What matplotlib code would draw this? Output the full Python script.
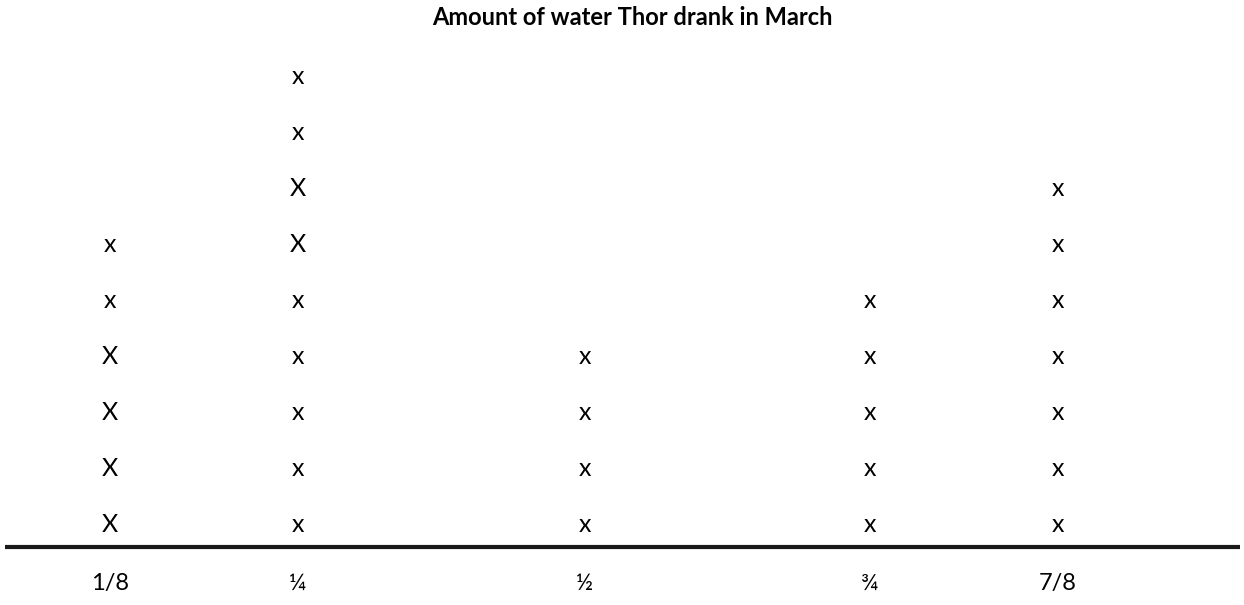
import matplotlib.pyplot as plt

# Line plot data: how many times each amount was drunk, and the glyph used for each mark (bottom to top)
amounts = ['1/8', '¼', '½', '¾', '7/8']
counts = [6, 9, 4, 5, 7]
marks = [
    ['X', 'X', 'X', 'X', 'x', 'x'],
    ['x', 'x', 'x', 'x', 'x', 'X', 'X', 'x', 'x'],
    ['x', 'x', 'x', 'x'],
    ['x', 'x', 'x', 'x', 'x'],
    ['x', 'x', 'x', 'x', 'x', 'x', 'x'],
]
title = 'Amount of water Thor drank in March'

# layout: horizontal position of each column (pixels across the figure)
col_pos = [110, 298, 585, 870, 1058]

plt.rcParams['font.family'] = ['Lato', 'DejaVu Sans']

fig = plt.figure(figsize=(12.44, 6.05), dpi=100)
ax = fig.add_axes([0, 0, 1, 1])
ax.set_xlim(0, 1244)
ax.set_ylim(-0.4286, 10.375)
ax.axis('off')

for xp, n, glyphs in zip(col_pos, counts, marks):
    for row in range(1, n + 1):
        ax.text(xp, row, glyphs[row - 1], ha='center', va='center', fontsize=18, color='black')

# baseline
ax.plot([5, 1240], [0.607, 0.607], color='#1a1a1a', lw=3, solid_capstyle='butt')

for xp, lab in zip(col_pos, amounts):
    ax.text(xp, -0.04, lab, ha='center', va='center', fontsize=17, color='black')

ax.text(632, 10.07, title, ha='center', va='center', fontsize=17, fontweight='bold', color='black')

fig.savefig('out.png', dpi=100)
